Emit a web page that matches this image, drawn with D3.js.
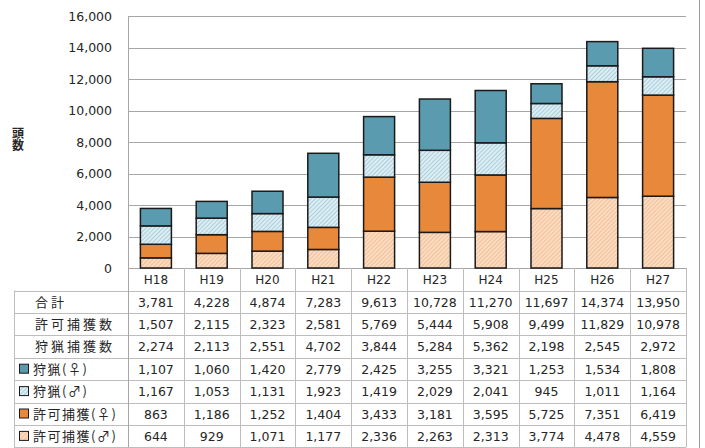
<!DOCTYPE html>
<html>
<head>
<meta charset="utf-8">
<script src="https://cdn.jsdelivr.net/npm/d3@7"></script>
<style>
  body { margin: 0; background: #fff; }
  svg { display: block; }
</style>
</head>
<body>
<svg id="chart" width="705" height="448"></svg>
<script>
const categories = ['H18', 'H19', 'H20', 'H21', 'H22', 'H23', 'H24', 'H25', 'H26', 'H27']
const totalRow = [3781, 4228, 4874, 7283, 9613, 10728, 11270, 11697, 14374, 13950]
const permitTotalRow = [1507, 2115, 2323, 2581, 5769, 5444, 5908, 9499, 11829, 10978]
const huntTotalRow = [2274, 2113, 2551, 4702, 3844, 5284, 5362, 2198, 2545, 2972]
const huntFemale = [1107, 1060, 1420, 2779, 2425, 3255, 3321, 1253, 1534, 1808]
const huntMale = [1167, 1053, 1131, 1923, 1419, 2029, 2041, 945, 1011, 1164]
const permitFemale = [863, 1186, 1252, 1404, 3433, 3181, 3595, 5725, 7351, 6419]
const permitMale = [644, 929, 1071, 1177, 2336, 2263, 2313, 3774, 4478, 4559]
const yTicks = [0, 2000, 4000, 6000, 8000, 10000, 12000, 14000, 16000]
const yTitle = '頭数'

const numFont = '"DejaVu Sans", Verdana, sans-serif'
const jpFont = '"Noto Sans CJK JP", sans-serif'

// stack order bottom -> top
const series = [
  { key: 'pm', label: '許可捕獲(♂)', values: permitMale, fill: 'url(#hatchPeach)' },
  { key: 'pf', label: '許可捕獲(♀)', values: permitFemale, fill: '#e8883a' },
  { key: 'hm', label: '狩猟(♂)', values: huntMale, fill: 'url(#hatchBlue)' },
  { key: 'hf', label: '狩猟(♀)', values: huntFemale, fill: '#5b9bb0' }
]

const svg = d3.select('#chart')
const plotLeft = 128, plotRight = 686, plotTop = 16, plotBottom = 268
const tableLeft = 14
const rowH = 22.4

const x = d3.scaleBand().domain(categories).range([plotLeft, plotRight]).paddingInner(0).paddingOuter(0)
const y = d3.scaleLinear().domain([0, 16000]).range([plotBottom, plotTop])

// patterns
const defs = svg.append('defs')
function hatch(id, bg, line) {
  const p = defs.append('pattern')
    .attr('id', id)
    .attr('patternUnits', 'userSpaceOnUse')
    .attr('width', 3)
    .attr('height', 3)
    .attr('patternTransform', 'rotate(45)')
  p.append('rect').attr('width', 3).attr('height', 3).attr('fill', bg)
  p.append('line').attr('x1', 0).attr('y1', 0).attr('x2', 0).attr('y2', 3)
    .attr('stroke', line).attr('stroke-width', 1)
}
hatch('hatchPeach', '#fbdcc2', '#eaa46f')
hatch('hatchBlue', '#dcedf4', '#7fb2c4')

// outer frame line at right
svg.append('line')
  .attr('x1', 699.5).attr('x2', 699.5).attr('y1', 0).attr('y2', 448)
  .attr('stroke', '#9a9a9a').attr('stroke-width', 1)

// gridlines
svg.append('g')
  .selectAll('line')
  .data(yTicks)
  .join('line')
  .attr('x1', plotLeft)
  .attr('x2', plotRight)
  .attr('y1', d => Math.round(y(d)) + 0.5)
  .attr('y2', d => Math.round(y(d)) + 0.5)
  .attr('stroke', '#a6a6a6')
  .attr('stroke-width', 1)

// y axis labels
svg.append('g')
  .selectAll('text')
  .data(yTicks)
  .join('text')
  .attr('x', 112)
  .attr('y', d => y(d) + 4.5)
  .attr('text-anchor', 'end')
  .attr('font-family', numFont)
  .attr('font-size', '12.5px')
  .attr('fill', '#262626')
  .text(d => d3.format(',')(d))

// y title, vertical writing
svg.append('text')
  .attr('x', 18)
  .attr('y', 127)
  .attr('writing-mode', 'vertical-rl')
  .attr('font-family', jpFont)
  .attr('font-size', '12px')
  .attr('font-weight', 'bold')
  .attr('fill', '#262626')
  .text(yTitle)

// bars
const stackData = categories.map((c, i) => {
  const row = { cat: c }
  series.forEach(s => { row[s.key] = s.values[i] })
  return row
})
const stacked = d3.stack().keys(series.map(s => s.key))(stackData)
const barW = 31
svg.append('g')
  .selectAll('g')
  .data(stacked)
  .join('g')
  .attr('fill', (d, i) => series[i].fill)
  .selectAll('rect')
  .data(d => d)
  .join('rect')
  .attr('x', d => x(d.data.cat) + x.bandwidth() / 2 - barW / 2)
  .attr('y', d => y(d[1]))
  .attr('width', barW)
  .attr('height', d => y(d[0]) - y(d[1]))
  .attr('stroke', '#1a1a1a')
  .attr('stroke-width', 1.5)

// table
const tableRows = [
  { label: '合計', values: totalRow },
  { label: '許可捕獲数', values: permitTotalRow },
  { label: '狩猟捕獲数', values: huntTotalRow },
  { label: '狩猟(♀)', values: huntFemale, legend: series[3].fill },
  { label: '狩猟(♂)', values: huntMale, legend: series[2].fill },
  { label: '許可捕獲(♀)', values: permitFemale, legend: series[1].fill },
  { label: '許可捕獲(♂)', values: permitMale, legend: series[0].fill }
]
const tableTop = 290.5
const tableBottom = tableTop + rowH * tableRows.length
const gridColor = '#bdbdbd'
const tbl = svg.append('g')

// horizontal lines
tbl.selectAll('line.h')
  .data(d3.range(tableRows.length + 1))
  .join('line')
  .attr('class', 'h')
  .attr('x1', tableLeft)
  .attr('x2', plotRight)
  .attr('y1', i => Math.round(tableTop + i * rowH) + 0.5)
  .attr('y2', i => Math.round(tableTop + i * rowH) + 0.5)
  .attr('stroke', gridColor)

// vertical lines between categories (incl. header row)
tbl.selectAll('line.v')
  .data(categories.map(c => x(c)).concat([plotRight]))
  .join('line')
  .attr('class', 'v')
  .attr('x1', d => Math.round(d) + 0.5)
  .attr('x2', d => Math.round(d) + 0.5)
  .attr('y1', plotBottom)
  .attr('y2', tableBottom)
  .attr('stroke', gridColor)

// y axis line and table left border
svg.append('line')
  .attr('x1', plotLeft + 0.5).attr('x2', plotLeft + 0.5)
  .attr('y1', plotTop).attr('y2', tableBottom)
  .attr('stroke', '#a6a6a6')
tbl.append('line')
  .attr('x1', tableLeft + 0.5).attr('x2', tableLeft + 0.5)
  .attr('y1', tableTop).attr('y2', tableBottom)
  .attr('stroke', gridColor)

// category header
tbl.selectAll('text.cat')
  .data(categories)
  .join('text')
  .attr('class', 'cat')
  .attr('x', d => x(d) + x.bandwidth() / 2)
  .attr('y', plotBottom + 16)
  .attr('text-anchor', 'middle')
  .attr('font-family', numFont)
  .attr('font-size', '12px')
  .attr('fill', '#262626')
  .text(d => d)

// rows
const rowG = tbl.selectAll('g.row')
  .data(tableRows)
  .join('g')
  .attr('class', 'row')
  .attr('transform', (d, i) => `translate(0,${tableTop + i * rowH})`)

rowG.filter(d => d.legend)
  .append('rect')
  .attr('x', 19.5)
  .attr('y', 6.5)
  .attr('width', 9)
  .attr('height', 9)
  .attr('fill', d => d.legend)
  .attr('stroke', '#1a1a1a')
  .attr('stroke-width', 1)

rowG.append('text')
  .attr('x', d => d.legend ? 33 : 35)
  .attr('y', 16)
  .attr('font-family', jpFont)
  .attr('font-size', '13px')
  .attr('letter-spacing', d => d.legend ? '1.5px' : '3px')
  .attr('fill', '#262626')
  .text(d => d.label)

rowG.selectAll('text.v')
  .data(d => d.values.map((v, i) => ({ v, c: categories[i] })))
  .join('text')
  .attr('class', 'v')
  .attr('x', d => x(d.c) + x.bandwidth() / 2)
  .attr('y', 16)
  .attr('text-anchor', 'middle')
  .attr('font-family', numFont)
  .attr('font-size', '12.5px')
  .attr('fill', '#262626')
  .text(d => d3.format(',')(d.v))
</script>
</body>
</html>
